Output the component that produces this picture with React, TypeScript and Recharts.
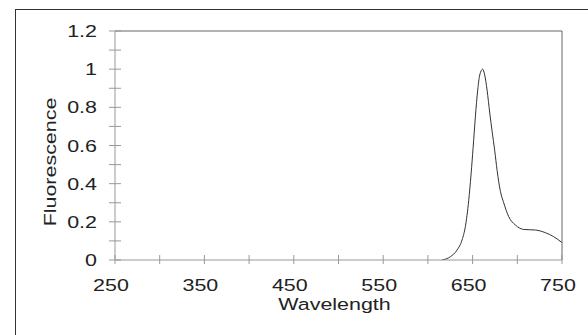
import React from 'react';
import { LineChart, Line, XAxis, YAxis } from 'recharts';

const wavelengths = [615.8, 625.1, 632.6, 638.2, 641.9, 645.6, 648.3, 650.6, 653.1, 655.7, 658.0, 661.3, 663.5, 666.2, 669.2, 671.8, 674.7, 677.4, 681.1, 684.8, 690.4, 697.9, 707.2, 720.3, 731.5, 740.8, 750];
const fluorescence = [0, 0.017, 0.052, 0.105, 0.175, 0.31, 0.45, 0.59, 0.75, 0.89, 0.97, 1.0, 0.97, 0.89, 0.77, 0.675, 0.575, 0.47, 0.36, 0.30, 0.227, 0.183, 0.16, 0.157, 0.143, 0.122, 0.091];

const xTicks = [250, 300, 350, 400, 450, 500, 550, 600, 650, 700, 750];
const xLabeled = [250, 350, 450, 550, 650, 750];
const yTicks = [0, 0.1, 0.2, 0.3, 0.4, 0.5, 0.6, 0.7, 0.8, 0.9, 1.0, 1.1, 1.2];
const yLabeled = ['0', '0.2', '0.4', '0.6', '0.8', '1', '1.2'];

const data = wavelengths.map((w, i) => ({ w, f: fluorescence[i] }));

const FONT = '"Liberation Sans", Arial, sans-serif';
const SX = 1.3;
const FS = 16.5;

function XTick(props: any) {
  const { x, y, payload } = props;
  const v = payload.value;
  const labeled = xLabeled.includes(v);
  return (
    <g>
      <line x1={x} x2={x} y1={y - 5} y2={y + 4} stroke="#999" strokeWidth={1} />
      {labeled && (
        <text transform={`translate(${x - 4},${y + 31}) scale(${SX},1)`} textAnchor="middle" fontSize={FS} fontFamily={FONT} fill="#222">
          {v}
        </text>
      )}
    </g>
  );
}

function YTick(props: any) {
  const { x, y, payload } = props;
  const label = String(Number(Number(payload.value).toFixed(1)));
  const labeled = yLabeled.includes(label);
  return (
    <g>
      <line x1={x - 6} x2={x + 6} y1={y} y2={y} stroke="#999" strokeWidth={1} />
      {labeled && (
        <text transform={`translate(${x - 18},${y + 6}) scale(${SX},1)`} textAnchor="end" fontSize={FS} fontFamily={FONT} fill="#222">
          {label}
        </text>
      )}
    </g>
  );
}

function XLabel(props: any) {
  const vb = props.viewBox || {};
  const cx = vb.x + vb.width / 2 - 4;
  const y = vb.y + 49.5;
  return (
    <text transform={`translate(${cx},${y}) scale(${SX},1)`} textAnchor="middle" fontSize={FS} fontFamily={FONT} fill="#222">
      Wavelength
    </text>
  );
}

function YLabel(props: any) {
  const vb = props.viewBox || {};
  const x = vb.x + vb.width - 59;
  const cy = 162;
  return (
    <text transform={`translate(${x},${cy}) rotate(-90) scale(${SX},1)`} textAnchor="middle" fontSize={FS} fontFamily={FONT} fill="#222">
      Fluorescence
    </text>
  );
}

export default function App() {
  return (
    <div style={{ position: 'absolute', left: 0, top: 0, width: 588, height: 335, overflow: 'hidden', background: '#fff' }}>
      <div style={{ position: 'absolute', left: 15, top: 9, width: 700, height: 500, borderTop: '1px solid #333', borderLeft: '1px solid #333', boxSizing: 'border-box' }} />
      <div style={{ position: 'absolute', left: 0, top: 0 }}>
        <LineChart width={588} height={335} data={data} margin={{ top: 30, right: 25, bottom: 74, left: 114 }}>
          <XAxis
            dataKey="w"
            type="number"
            domain={[250, 750]}
            ticks={xTicks}
            allowDataOverflow
            height={1}
            tickSize={0}
            tickMargin={0}
            tick={<XTick />}
            axisLine={{ stroke: '#999' }}
            tickLine={false}
            interval={0}
            label={<XLabel />}
          />
          <XAxis
            xAxisId="top"
            orientation="top"
            type="number"
            domain={[250, 750]}
            height={1}
            tick={false}
            tickLine={false}
            axisLine={{ stroke: '#666' }}
          />
          <YAxis
            type="number"
            domain={[0, 1.2]}
            ticks={yTicks}
            allowDataOverflow
            width={1}
            tickSize={0}
            tickMargin={0}
            tick={<YTick />}
            axisLine={{ stroke: '#999' }}
            tickLine={false}
            interval={0}
            label={<YLabel />}
          />
          <YAxis
            yAxisId="right"
            orientation="right"
            type="number"
            domain={[0, 1.2]}
            width={1}
            tick={false}
            tickLine={false}
            axisLine={{ stroke: '#666' }}
          />
          <Line dataKey="f" type="monotone" dot={false} stroke="#333" strokeWidth={1} isAnimationActive={false} />
        </LineChart>
      </div>
    </div>
  );
}
